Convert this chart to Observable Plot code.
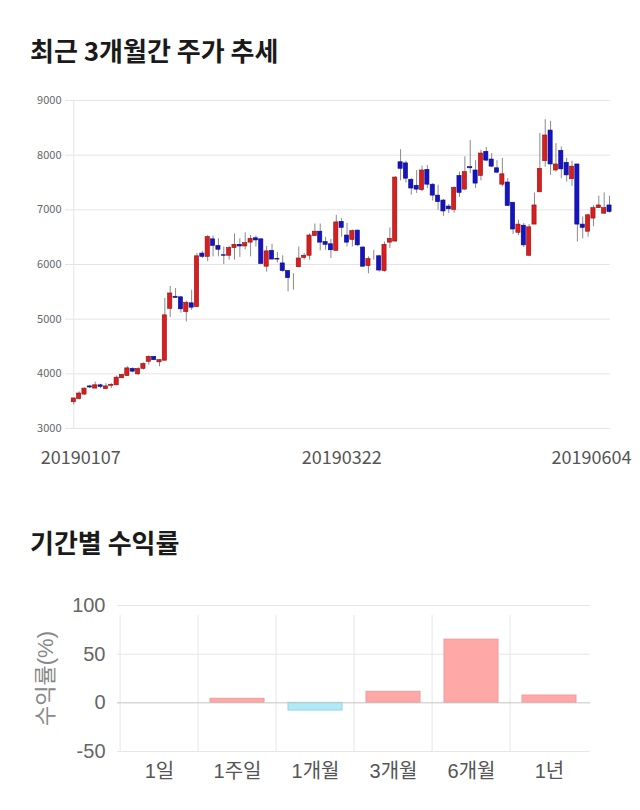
<!DOCTYPE html>
<html>
<head>
<meta charset="utf-8">
<script src="https://cdn.jsdelivr.net/npm/d3@7"></script>
<script src="https://cdn.jsdelivr.net/npm/@observablehq/plot@0.6"></script>
<style>
  html, body { margin: 0; padding: 0; background: #fff; }
  body { width: 640px; height: 810px; position: relative; overflow: hidden;
         font-family: 'Noto Sans CJK KR', 'Noto Sans', sans-serif; }
  .title { position: absolute; left: 30px; font-size: 26px; font-weight: 700; color: #1a1a1a; line-height: 1; }
  #t1 { top: 37px; }
  #t2 { top: 529px; }
  #c1 { position: absolute; left: 0; top: 80px; }
  #c2 { position: absolute; left: 0; top: 585px; }
</style>
</head>
<body>
<div class="title" id="t1">최근 3개월간 주가 추세</div>
<div id="c1"></div>
<div class="title" id="t2">기간별 수익률</div>
<div id="c2"></div>
<script>
const dates = [
  "20190107","20190108","20190109","20190110","20190111","20190114","20190115","20190116","20190117","20190118",
  "20190121","20190122","20190123","20190124","20190125","20190128","20190129","20190130","20190131",
  "20190201","20190207","20190208","20190211","20190212","20190213","20190214","20190215","20190218",
  "20190219","20190220","20190221","20190222","20190225","20190226","20190227","20190228",
  "20190304","20190305","20190306","20190307","20190308","20190311","20190312","20190313","20190314","20190315",
  "20190318","20190319","20190320","20190321","20190322","20190325","20190326","20190327","20190328","20190329",
  "20190401","20190402","20190403","20190404","20190405","20190408","20190409","20190410","20190411","20190412",
  "20190415","20190416","20190417","20190418","20190419","20190422","20190423","20190424","20190425","20190426",
  "20190429","20190430",
  "20190502","20190503","20190507","20190508","20190509","20190510","20190513","20190514","20190515","20190516",
  "20190517","20190520","20190521","20190522","20190523","20190524","20190527","20190528","20190529","20190530",
  "20190531","20190603","20190604"
];
const openP = [
  3480,3540,3620,3770,3730,3790,3720,3780,3790,3920,
  3960,4090,3990,4090,4220,4310,4210,4240,5190,5410,
  5400,5130,5290,5220,6200,6140,6460,6340,6170,6160,
  6300,6360,6330,6400,6480,6460,5960,6250,6100,6020,
  5880,5760,5950,6120,6160,6520,6600,6410,6370,6250,
  6780,6530,6450,6620,6310,5970,6150,6150,5880,6400,
  6420,7870,7850,7550,7440,7360,7730,7460,7260,7170,
  7060,7000,7620,7370,7780,7720,7620,8060,7920,7760,
  7460,7500,7130,6580,6710,6160,6730,7320,7890,8450,
  7720,8080,7860,7560,7830,6730,6600,6840,7030,6930,
  7080
];
const closeP = [
  3550,3640,3730,3750,3790,3760,3770,3800,3930,3980,
  4100,4040,4090,4180,4310,4250,4250,5070,5470,5390,
  5180,5300,5210,6150,6140,6500,6340,6270,6160,6300,
  6360,6330,6390,6470,6440,6010,6240,6090,6090,5880,
  5750,5760,6110,6160,6530,6600,6400,6360,6260,6770,
  6670,6400,6610,6350,5960,6100,6150,5890,6360,6470,
  7590,7750,7570,7390,7370,7720,7460,7260,7140,6970,
  7010,7400,7310,7690,7760,7480,8030,7900,7790,7680,
  7650,7070,6640,6730,6350,6680,7080,7750,8360,7830,
  7830,7740,7630,7790,6730,6670,6900,7030,7080,7030,
  6960
];
const highP = [
  3550,3670,3740,3790,3850,3810,3820,3820,3960,3990,
  4130,4110,4110,4200,4330,4320,4260,5380,5600,5560,
  5410,5330,5530,6200,6240,6530,6520,6470,6320,6330,
  6560,6470,6580,6530,6520,6470,6330,6370,6220,6160,
  5890,5830,6320,6200,6560,6740,6740,6500,6460,6900,
  6840,6750,6630,6630,6330,6140,6260,6170,6410,6670,
  7610,8100,7890,7570,7720,7800,7810,7480,7450,7190,
  7100,7420,7690,7970,8270,7900,8090,8140,8030,7900,
  7940,7570,7130,6810,6750,6730,7310,8400,8650,8620,
  8210,8150,7940,7890,7830,6870,6920,7080,7250,7310,
  7250
];
const lowP = [
  3430,3520,3610,3730,3730,3730,3710,3730,3780,3910,
  3960,4020,3970,4070,4160,4240,4130,4240,5030,5380,
  5110,4950,5160,5220,6110,6050,6140,6140,6000,6080,
  6080,6130,6270,6140,6320,6000,5860,6090,6030,5860,
  5500,5530,5940,6080,6080,6520,6250,6260,6110,6250,
  6500,6320,6320,6330,5950,5830,6080,5860,5860,6290,
  6410,7530,7490,7270,7300,7330,7390,7160,6990,6880,
  6930,6940,7230,7360,7660,7390,7530,7880,7770,7660,
  7420,7070,6550,6530,6310,6140,6730,7320,7780,7630,
  7690,7570,7510,7430,6410,6470,6500,6690,7030,6920,
  6940
];
const priceTicks = [3000, 4000, 5000, 6000, 7000, 8000, 9000];
const dateLabels = ["20190107", "20190322", "20190604"];

const periods = ["1일", "1주일", "1개월", "3개월", "6개월", "1년"];
const returns = [0, 4.1, -7.9, 11.3, 64.9, 7.5];
const returnTicks = [-50, 0, 50, 100];
const yLabel = "수익률(%)";

const FONT = "'Noto Sans CJK KR', 'Noto Sans', sans-serif";
const FONT2 = "'Liberation Sans', 'Noto Sans CJK KR', sans-serif";

const candles = dates.map((d, i) => ({date: d, open: openP[i], close: closeP[i], high: highP[i], low: lowP[i]}));
const up = d => d.close >= d.open;

const labelShift = [7, 0, -18];

const chart1 = Plot.plot({
  width: 640, height: 400,
  marginLeft: 65, marginRight: 30, marginTop: 20, marginBottom: 52,
  style: {fontFamily: FONT, background: "transparent"},
  x: {type: "band", domain: dates, paddingInner: 0.22, paddingOuter: 0.11, insetLeft: 5.6, insetRight: -1.7, axis: null},
  y: {domain: [3000, 9000], axis: null},
  color: {type: "identity"},
  marks: [
    Plot.ruleY(priceTicks, {stroke: "#e4e4e4"}),
    Plot.ruleX([dates[0]], {stroke: "#e4e4e4"}),
    Plot.axisY(priceTicks, {tickSize: 0, tickPadding: 4, fontSize: 11, fill: "#666", tickFormat: d => String(d), label: null}),
    Plot.ruleX(candles, {x: "date", y1: "low", y2: "high", stroke: "#8a8a8a", strokeWidth: 1}),
    Plot.barY(candles, {x: "date", y1: "open", y2: "close",
      fill: d => up(d) ? "#d81e1e" : "#1414c4",
      stroke: d => up(d) ? "#8e1010" : "#0a0a80", strokeWidth: 0.6}),
    ...dateLabels.map((t, i) => Plot.text([t], {x: d => d, text: d => d, frameAnchor: "bottom", dy: 35, dx: labelShift[i], fontSize: 18, fill: "#555"}))
  ]
});
document.getElementById("c1").appendChild(chart1);

const bars = periods.map((p, i) => ({period: p, value: returns[i]}));
const step = (640 - 117 - 50) / periods.length;

const chart2 = Plot.plot({
  width: 640, height: 215,
  marginLeft: 117, marginRight: 50, marginTop: 20, marginBottom: 49,
  style: {fontFamily: FONT2, background: "transparent"},
  x: {type: "band", domain: periods, paddingInner: 0.31, paddingOuter: 0.155, axis: null},
  y: {domain: [-50, 100], axis: null},
  color: {type: "identity"},
  marks: [
    Plot.ruleY(returnTicks.filter(d => d !== 0), {stroke: "#e6e6e6"}),
    Plot.ruleX(periods, {x: d => d, dx: -step / 2, y1: -50, y2: 100, insetBottom: -10, stroke: "#e6e6e6"}),
    Plot.barY(bars, {x: "period", y: "value",
      fill: d => d.value >= 0 ? "#ffa8a8" : "#b0eaf6",
      stroke: d => d.value >= 0 ? "#f09a9a" : "#94d4e2", strokeWidth: 1}),
    Plot.ruleY([0], {stroke: "#c4c4c4"}),
    Plot.axisY(returnTicks, {tickSize: 0, tickPadding: 12, fontSize: 20, fill: "#666", tickFormat: d => String(d), label: null}),
    Plot.axisX(periods, {tickSize: 0, tickPadding: 12, fontSize: 20, fill: "#555", label: null}),
    Plot.text([yLabel], {text: d => d, frameAnchor: "left", textAnchor: "middle", dx: -72, rotate: -90, fontSize: 22, fill: "#888"})
  ]
});
document.getElementById("c2").appendChild(chart2);
</script>
</body>
</html>
